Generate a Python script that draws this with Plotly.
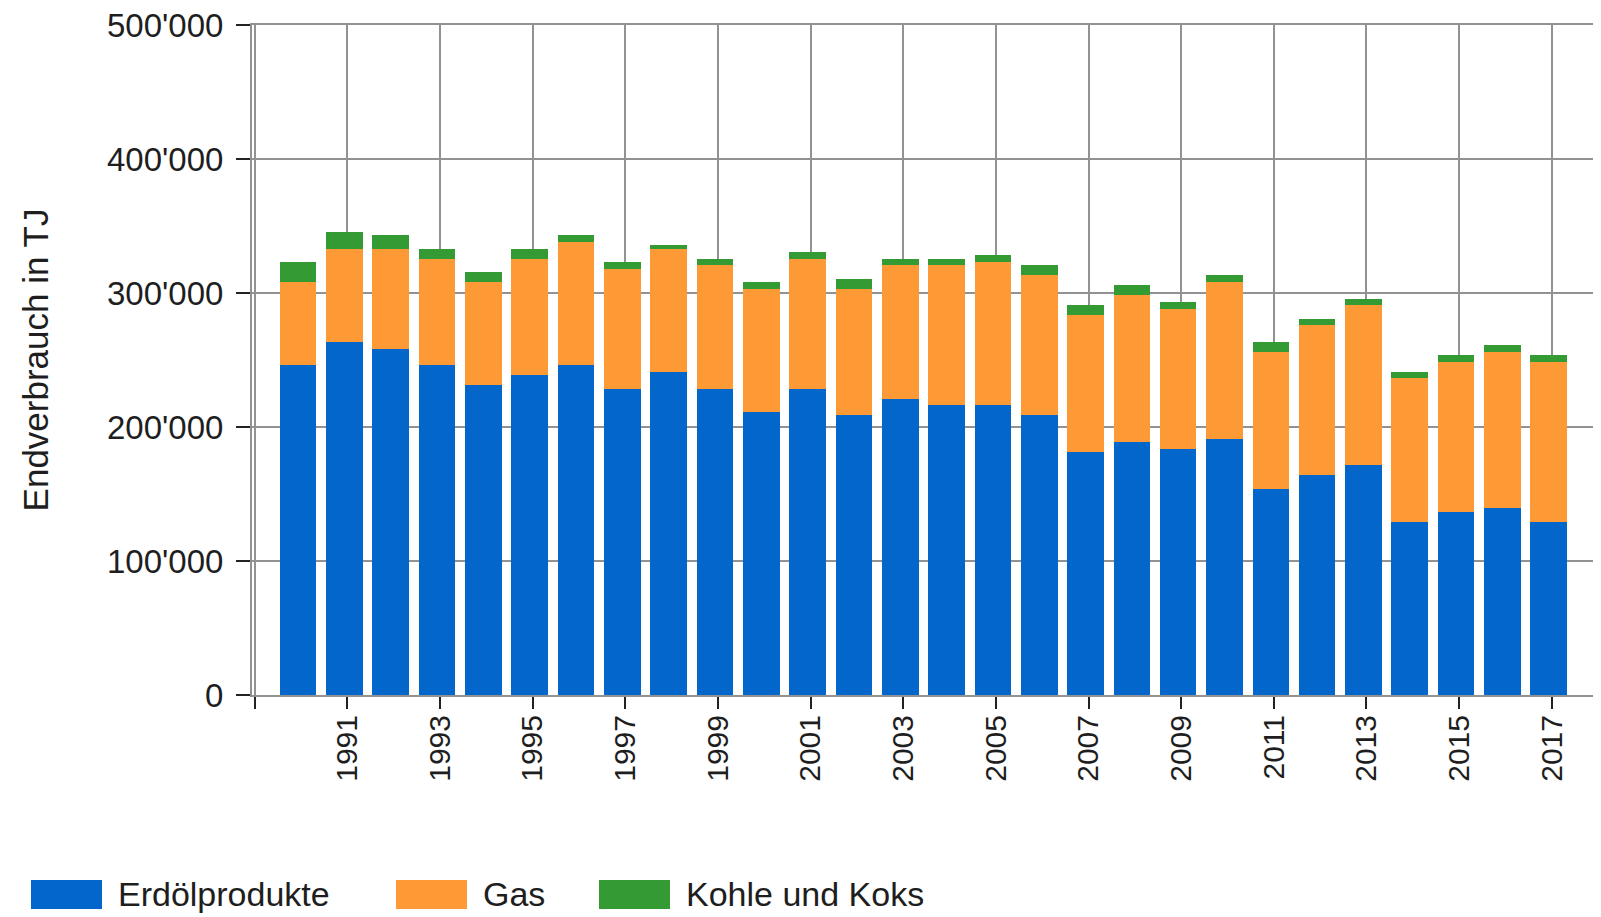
import plotly.graph_objects as go

# ---- data (TJ) ----
years = list(range(1990, 2018))
erdoel = [246000, 263400, 258500, 246000, 231100, 238600, 246000, 228700, 241000, 228700,
          211200, 228700, 208700, 221200, 216200, 216200, 208700, 181400, 188800, 183900,
          191300, 154100, 164100, 171500, 129300, 136800, 139300, 129300]
gas = [62200, 69700, 74600, 79700, 77100, 87100, 92100, 89500, 92100, 92000,
       92100, 97000, 94600, 99500, 104500, 106900, 104500, 102000, 109500, 104400,
       116900, 102000, 111800, 119300, 106900, 111700, 116700, 119200]
kohle = [14900, 12400, 10000, 7400, 7500, 7400, 5000, 4900, 2500, 5000,
         4900, 4900, 7400, 5000, 5000, 5000, 7500, 7400, 7400, 5000,
         5000, 7400, 5000, 5000, 4900, 5000, 5000, 5000]

series_names = ["Erdölprodukte", "Gas", "Kohle und Koks"]
series_colors = ["#0366cb", "#fd9a36", "#349a34"]

y_tickvals = [0, 100000, 200000, 300000, 400000, 500000]
y_ticktext = ["0", "100'000", "200'000", "300'000", "400'000", "500'000"]
x_tickvals = [1989] + list(range(1991, 2018, 2))
x_ticktext = [""] + [str(y) for y in range(1991, 2018, 2)]

# page body has an 8px default margin -> figure is placed at (8, 8)
OFF = 8
W, H = 1601 - OFF, 917 - OFF
ML, MR, MT, MB = 252 - OFF, 2, 25 - OFF, 222
PW, PH = W - ML - MR, H - MT - MB

FONT = "Liberation Sans, Arial, sans-serif"
TXT = "#1e1e1e"
GRID = "#929292"

fig = go.Figure()
for name, vals, col in zip(series_names, [erdoel, gas, kohle], series_colors):
    fig.add_trace(go.Bar(x=years, y=vals, name=name, marker=dict(color=col, line=dict(width=0)),
                         width=0.79, offset=-0.46, showlegend=False))

fig.update_layout(
    width=W, height=H,
    margin=dict(l=ML, r=MR, t=MT, b=MB, autoexpand=False),
    barmode="stack",
    plot_bgcolor="white", paper_bgcolor="white",
    font=dict(family=FONT, color=TXT),
)
fig.update_yaxes(
    range=[0, 500000], tickvals=y_tickvals, ticktext=y_ticktext,
    tickfont=dict(size=33, family=FONT, color=TXT),
    showgrid=True, gridcolor=GRID, gridwidth=2,
    showline=True, linecolor=GRID, linewidth=2,
    ticks="outside", ticklen=14, tickwidth=2, tickcolor="#222",
    ticklabelstandoff=6, ticklabeloverflow="allow", zeroline=False,
    title=dict(text="Endverbrauch in TJ", font=dict(size=35, family=FONT, color=TXT), standoff=48),
)
fig.update_xaxes(
    range=[1988.94, 2018.02], tickvals=x_tickvals, ticktext=x_ticktext,
    tickangle=-90, tickfont=dict(size=30, family=FONT, color=TXT),
    showgrid=True, gridcolor=GRID, gridwidth=2,
    showline=True, linecolor=GRID, linewidth=2, mirror=True,
    ticks="outside", ticklen=12, tickwidth=2, tickcolor="#222",
    ticklabelstandoff=-6, zeroline=False,
)

# ---- custom legend (large swatches like the reference); positions in page pixels ----
def px_x(p):
    return (p - OFF - ML) / PW

def px_y(p):
    return (H - MB - (p - OFF)) / PH

legend_swatch_left = [31, 396, 599]
for name, col, x0 in zip(series_names, series_colors, legend_swatch_left):
    fig.add_shape(type="rect", xref="paper", yref="paper",
                  x0=px_x(x0), x1=px_x(x0 + 71), y0=px_y(909), y1=px_y(880),
                  fillcolor=col, line=dict(width=0))
    fig.add_annotation(xref="paper", yref="paper", x=px_x(x0 + 85), y=px_y(894),
                       text=name, showarrow=False, xanchor="left", yanchor="middle",
                       font=dict(size=34, family=FONT, color=TXT))

fig.write_html("out.html")
